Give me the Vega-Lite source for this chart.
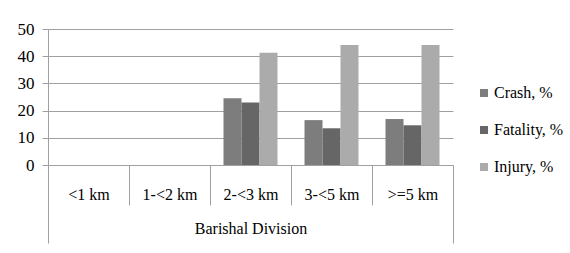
{
  "$schema": "https://vega.github.io/schema/vega-lite/v6.json",
  "width": 405,
  "height": 136,
  "autosize": {"type": "none"},
  "padding": {"left": 48, "top": 29, "right": 117, "bottom": 88},
  "background": "white",
  "config": {"view": {"stroke": null}, "font": "'Liberation Serif', 'DejaVu Serif', serif"},
  "data": {
    "values": [
      {"distance": "2-<3 km", "series": "Crash, %", "value": 24.5},
      {"distance": "2-<3 km", "series": "Fatality, %", "value": 23.0},
      {"distance": "2-<3 km", "series": "Injury, %", "value": 41.3},
      {"distance": "3-<5 km", "series": "Crash, %", "value": 16.5},
      {"distance": "3-<5 km", "series": "Fatality, %", "value": 13.5},
      {"distance": "3-<5 km", "series": "Injury, %", "value": 44.1},
      {"distance": ">=5 km", "series": "Crash, %", "value": 16.9},
      {"distance": ">=5 km", "series": "Fatality, %", "value": 14.6},
      {"distance": ">=5 km", "series": "Injury, %", "value": 44.1}
    ]
  },
  "mark": {"type": "bar"},
  "encoding": {
    "x": {
      "field": "distance",
      "type": "nominal",
      "sort": null,
      "scale": {"domain": ["<1 km", "1-<2 km", "2-<3 km", "3-<5 km", ">=5 km"], "paddingInner": 0, "paddingOuter": 0},
      "axis": {
        "title": "Barishal Division",
        "labelAngle": 0,
        "labelFont": "'Liberation Serif', 'DejaVu Serif', serif",
        "labelFontSize": 16,
        "labelColor": "black",
        "labelPadding": {"condition": {"test": "datum.index == 1", "value": -57}, "value": -19},
        "tickBand": "extent",
        "tickSize": {"condition": {"test": "datum.index == 1 || datum.extra", "value": 78}, "value": 40},
        "tickColor": "#a0a0a0",
        "domainColor": "#a0a0a0",
        "titleFont": "'Liberation Serif', 'DejaVu Serif', serif",
        "titleFontWeight": "normal",
        "titleFontSize": 16,
        "titleColor": "black",
        "titleY": 63,
        "titleBaseline": "middle"
      }
    },
    "xOffset": {
      "field": "series",
      "type": "nominal",
      "sort": ["Crash, %", "Fatality, %", "Injury, %"],
      "scale": {"paddingInner": 0, "paddingOuter": 0.75}
    },
    "y": {
      "field": "value",
      "type": "quantitative",
      "scale": {"domain": [0, 50]},
      "axis": {
        "title": null,
        "values": [0, 10, 20, 30, 40, 50],
        "tickSize": 6,
        "tickColor": "#a0a0a0",
        "domainColor": "#a0a0a0",
        "gridColor": "#a0a0a0",
        "gridOpacity": 1,
        "labelFont": "'Liberation Serif', 'DejaVu Serif', serif",
        "labelFontSize": 17,
        "labelColor": "black",
        "labelPadding": 8
      }
    },
    "color": {
      "field": "series",
      "type": "nominal",
      "scale": {"domain": ["Crash, %", "Fatality, %", "Injury, %"], "range": ["#7d7d7d", "#666666", "#ababab"]},
      "legend": {
        "title": null,
        "orient": "none",
        "legendX": 428,
        "legendY": 56,
        "symbolType": "square",
        "symbolSize": 64,
        "symbolStrokeWidth": 0,
        "labelFont": "'Liberation Serif', 'DejaVu Serif', serif",
        "labelFontSize": 16,
        "labelColor": "black",
        "labelOffset": 2,
        "rowPadding": 21
      }
    }
  }
}
